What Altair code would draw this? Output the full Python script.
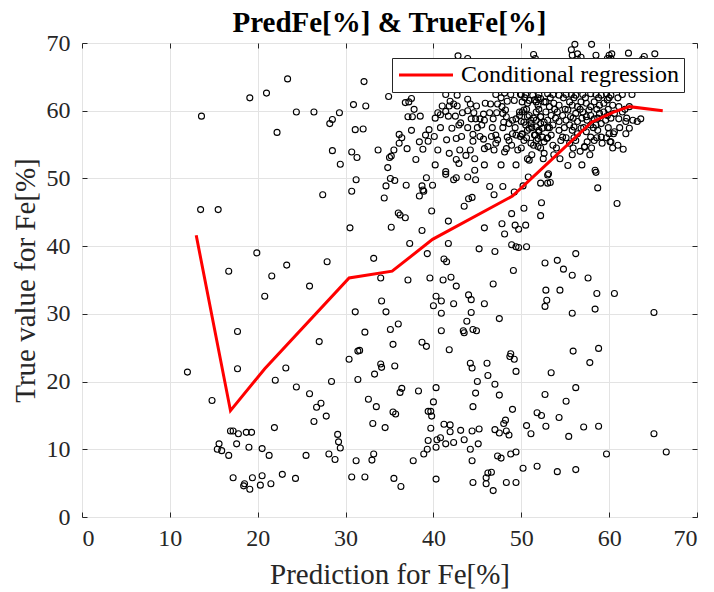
import altair as alt
import pandas as pd

SERIF = "Liberation Serif"
INK = "#262626"

# (prediction, true value) pairs for Fe[%], grouped by region of the plot
low_pred_points = [
    (23.4, 64.7), (21.0, 62.6), (19.1, 61.9), (13.6, 59.2), (24.4, 59.8), (26.4, 59.8), (29.3, 59.7),
    (30.9, 60.9), (28.5, 58.7), (28.2, 58.1), (22.2, 56.8), (31.1, 57.2), (28.5, 54.1), (30.7, 53.9),
    (31.3, 53.1), (29.4, 52.1), (31.2, 49.8), (27.4, 47.6), (30.7, 48.1),
    (13.5, 45.4), (15.5, 45.4), (30.5, 42.7), (19.9, 39.0), (16.7, 36.3), (23.3, 37.2), (21.6, 35.6),
    (27.9, 37.7), (25.9, 34.1), (20.8, 32.6), (31.1, 30.3), (17.7, 27.4), (27.0, 25.9),
    (12.0, 21.4), (17.7, 21.9), (23.2, 22.0), (22.0, 20.2), (30.4, 23.3), (31.4, 24.5), (28.4, 20.0),
    (31.4, 20.3), (24.4, 19.2), (25.9, 18.2), (27.2, 16.8), (26.7, 16.2), (14.8, 17.2), (27.8, 14.9),
    (26.4, 14.1), (21.9, 13.2), (16.9, 12.7), (17.2, 12.7), (17.8, 12.3), (18.7, 12.5), (19.3, 12.5),
    (15.6, 10.8), (15.4, 10.0), (15.9, 9.8), (17.6, 10.8), (19.0, 10.3), (20.5, 10.1), (16.7, 9.1),
    (21.3, 9.1), (25.5, 9.1), (28.1, 9.3), (28.8, 8.5), (29.1, 12.2), (29.2, 11.1), (29.4, 10.2),
    (31.2, 8.3), (17.2, 5.8), (19.4, 5.8), (20.5, 6.1), (18.5, 4.9), (18.4, 4.6), (19.1, 4.1),
    (20.3, 4.7), (21.5, 4.9), (22.8, 6.3), (24.3, 5.7), (30.7, 5.9),
]

mid_pred_upper = [
    (34.4, 47.1), (38.4, 47.4), (38.9, 48.1), (35.2, 42.8), (36.0, 44.9), (36.2, 44.6), (36.8, 44.2),
    (39.8, 45.2), (38.7, 42.3), (37.3, 40.4), (33.2, 38.2), (39.3, 38.9), (41.7, 43.7), (41.7, 40.4),
    (43.5, 45.9), (44.0, 47.0), (44.4, 47.2), (46.9, 47.6), (41.2, 38.1), (41.5, 37.7), (34.0, 35.3),
    (37.1, 35.0), (39.6, 35.3), (41.1, 35.0), (42.0, 35.4), (42.6, 34.1), (45.8, 42.7), (45.2, 39.6),
    (47.0, 39.2), (47.8, 43.3), (48.1, 41.8), (48.9, 44.8), (49.3, 43.1), (49.7, 42.5), (50.3, 45.6),
    (50.5, 43.1), (52.3, 46.4), (52.2, 44.5), (48.9, 40.2), (49.4, 39.9), (49.7, 39.8), (50.6, 39.9),
    (49.1, 36.4), (52.7, 37.5), (46.8, 34.4), (40.3, 32.6), (40.9, 31.9), (40.0, 31.2), (42.3, 31.5),
    (44.0, 32.8), (44.3, 32.1), (45.8, 31.5), (34.1, 31.9), (34.6, 30.3), (40.9, 30.1), (44.3, 30.2),
    (47.5, 29.3), (52.8, 33.5), (52.9, 32.0), (52.7, 31.1), (36.0, 28.5), (35.1, 27.7), (32.2, 27.3),
    (40.9, 27.5), (43.4, 27.5), (43.5, 27.2), (43.8, 28.9), (44.5, 27.7), (44.9, 27.5), (35.4, 25.5),
    (38.7, 25.8), (39.2, 25.2), (31.6, 24.6), (41.8, 24.7),
]

mid_pred_lower = [
    (34.0, 22.6), (34.1, 22.1), (35.6, 22.3), (33.3, 21.1), (44.2, 22.7), (44.4, 22.0), (46.1, 22.7),
    (46.2, 20.9), (48.8, 24.1), (48.7, 23.7), (49.2, 23.3), (49.4, 21.5), (45.0, 20.0), (47.0, 19.6),
    (44.8, 18.3), (47.5, 18.0), (44.5, 16.3), (49.0, 15.9), (36.4, 19.0), (36.2, 18.4), (38.3, 18.6),
    (40.3, 19.1), (32.6, 17.4), (33.5, 16.3), (40.0, 17.0), (35.4, 15.5), (35.7, 15.2), (39.4, 15.6),
    (39.7, 15.6), (39.8, 14.9), (33.1, 13.8), (34.5, 13.2), (39.7, 13.1), (41.2, 13.7), (41.9, 13.6),
    (41.9, 12.6), (43.1, 12.8), (44.4, 12.7), (45.2, 13.0), (47.0, 12.9), (47.5, 12.4), (48.0, 13.8),
    (48.2, 14.3), (48.3, 12.7), (48.6, 12.1), (50.6, 13.5), (51.1, 12.3), (51.8, 15.4), (52.3, 15.0),
    (52.7, 18.1), (52.8, 13.4), (40.8, 11.7), (40.4, 11.4), (39.4, 11.3), (41.4, 10.8), (42.3, 11.0),
    (43.5, 11.4), (45.1, 10.8), (40.3, 10.3), (44.2, 10.0), (39.3, 10.0), (38.9, 9.3), (37.7, 8.3),
    (33.2, 9.3), (33.0, 8.4), (47.3, 9.0), (47.7, 8.7), (48.8, 9.3), (49.4, 9.6), (44.4, 8.3),
    (50.2, 7.2), (51.8, 7.5), (46.2, 6.5), (46.6, 6.6), (46.0, 5.8), (46.0, 4.9), (44.5, 5.1),
    (46.8, 3.9), (48.3, 5.1), (49.4, 5.1), (40.3, 5.6), (35.5, 5.7), (36.3, 4.5), (32.2, 5.9),
]

high_pred_sparse = [
    (55.9, 24.5), (58.8, 24.9), (57.8, 22.8), (53.4, 21.3), (56.2, 19.1), (55.1, 17.1), (54.3, 14.7),
    (55.4, 11.9), (57.1, 13.3), (58.8, 13.4), (59.7, 9.3), (65.1, 12.3), (66.5, 9.6), (54.1, 6.7),
    (56.2, 7.0), (60.9, 46.3), (56.2, 38.9), (54.1, 37.9), (54.8, 36.6), (55.8, 35.7), (57.6, 35.3),
    (54.4, 33.5), (58.6, 33.0), (60.6, 33.0), (58.4, 30.7), (55.8, 30.1), (65.1, 30.2),
]

upper_cluster_left = [
    (32.1, 64.3), (42.8, 68.1), (43.9, 67.7), (51.4, 68.3), (51.6, 67.7), (32.3, 60.7), (34.9, 62.1),
    (36.8, 61.2), (37.2, 61.3), (37.5, 61.8), (37.8, 60.2), (37.1, 59.1), (37.6, 59.1), (38.5, 59.2),
    (40.2, 58.9), (40.8, 59.4), (41.0, 60.7), (41.9, 61.4), (41.8, 60.7), (42.7, 60.7), (41.4, 59.9),
    (41.7, 59.2), (42.5, 59.2), (42.7, 62.3), (41.4, 62.4), (43.9, 61.7), (43.9, 60.0), (44.9, 60.7),
    (45.9, 61.1), (45.7, 59.5), (44.8, 58.8), (44.3, 58.8), (45.3, 58.8), (45.8, 58.6), (46.8, 58.8),
    (45.5, 57.9), (47.1, 62.4), (47.7, 61.9), (48.1, 62.6), (48.4, 61.4), (48.8, 62.4), (49.2, 61.5),
    (49.9, 62.4), (50.9, 61.5), (51.7, 61.3), (52.2, 61.8), (52.8, 61.3), (47.8, 60.6), (48.2, 60.1),
    (47.9, 59.6), (48.3, 59.1), (48.0, 58.3), (48.6, 58.1), (49.0, 58.6), (49.4, 58.8), (49.8, 59.3),
    (50.1, 59.8), (50.3, 58.3), (50.7, 59.1), (51.1, 58.1), (50.9, 57.4), (51.7, 58.6), (52.2, 59.1),
    (52.6, 58.3), (53.0, 57.5), (52.0, 57.1), (52.4, 57.4), (48.4, 56.1), (49.0, 56.6), (48.6, 55.6),
    (48.9, 54.9), (48.3, 54.4), (48.1, 53.9), (49.4, 56.4), (50.1, 56.5), (51.6, 56.4), (51.9, 55.9),
    (51.4, 54.9), (51.9, 54.7), (52.6, 53.7), (52.9, 55.9), (50.9, 52.7), (32.0, 57.3), (33.7, 54.2),
    (36.1, 56.5), (36.4, 56.0), (37.5, 57.1), (39.5, 57.2), (39.1, 56.4), (39.4, 55.5), (36.1, 55.2),
    (35.5, 54.2), (35.2, 53.3), (35.0, 53.1), (37.0, 54.4), (38.4, 55.4), (38.8, 54.3), (38.0, 52.8),
    (42.1, 57.4), (42.9, 57.9), (43.1, 58.2), (41.5, 55.7), (42.6, 55.9), (44.5, 56.5), (44.5, 55.5),
    (45.7, 55.8), (47.1, 56.4), (47.3, 55.7), (46.2, 54.7), (45.8, 54.4), (47.1, 55.2), (41.8, 53.7),
    (42.6, 52.8), (42.9, 52.2), (43.7, 53.4), (44.7, 52.9), (44.7, 51.2), (34.8, 51.6), (35.6, 49.7),
    (35.1, 50.0), (34.6, 48.9), (36.9, 49.0), (38.7, 48.9), (39.2, 50.1), (39.9, 49.0), (38.8, 48.3),
    (41.4, 51.0), (41.4, 50.6), (42.6, 50.1), (42.3, 49.8), (43.9, 50.2), (44.8, 49.8), (46.4, 48.8),
    (47.9, 48.8), (49.2, 48.0), (50.2, 48.9), (50.8, 50.2), (52.2, 49.3), (53.0, 49.3), (53.1, 50.7),
    (42.3, 61.0), (44.2, 61.0), (46.5, 61.0), (47.3, 61.0), (40.5, 59.7), (43.3, 59.7), (44.6, 59.7),
    (46.4, 59.7), (47.2, 59.7), (40.8, 57.5), (43.9, 57.5), (45.0, 57.5), (46.7, 57.5), (47.9, 57.5),
    (49.3, 57.5), (40.1, 56.2), (43.2, 56.2), (45.3, 56.2), (46.6, 56.2), (49.9, 56.2), (40.5, 54.2),
    (43.0, 54.2), (44.2, 54.2), (46.9, 54.2), (49.6, 54.2), (40.2, 52.0), (45.8, 52.0), (47.7, 52.0),
    (49.4, 52.0),
]

upper_cluster_right = [
    (55.7, 69.0), (56.1, 69.8), (58.0, 69.8), (55.8, 68.2), (56.4, 68.4), (56.8, 67.9), (56.4, 67.6),
    (58.5, 68.2), (60.0, 68.2), (60.3, 68.4), (59.8, 67.7), (60.2, 67.7), (62.2, 68.5), (64.0, 68.0),
    (63.8, 67.6), (65.2, 68.4),
    (50.0, 62.4), (50.5, 62.4), (51.3, 62.3), (52.0, 62.4), (53.0, 62.5), (53.6, 62.4), (54.3, 62.3),
    (55.1, 62.4), (55.7, 62.4), (56.2, 62.3), (57.0, 62.4), (57.9, 62.5), (58.5, 62.4), (59.1, 62.3),
    (59.7, 62.5), (60.2, 62.3), (61.5, 62.4), (62.6, 62.4),
    (50.1, 61.3), (50.7, 61.1), (51.5, 61.6), (51.9, 60.8), (52.6, 61.3), (53.2, 60.6), (53.7, 61.1),
    (54.3, 60.8), (55.5, 61.3), (55.8, 60.8), (56.4, 60.6), (56.8, 61.3), (57.4, 61.1), (57.9, 60.6),
    (58.3, 61.3), (58.9, 60.8), (59.4, 61.1), (59.8, 61.6), (60.4, 60.8), (61.1, 60.6), (61.5, 59.8),
    (62.3, 60.6),
    (49.8, 59.8), (50.3, 60.1), (50.9, 59.3), (51.7, 59.8), (52.2, 59.1), (52.8, 59.8), (53.4, 59.3),
    (54.1, 59.8), (54.7, 59.3), (55.3, 60.1), (55.6, 59.1), (56.2, 59.6), (57.0, 59.8), (57.4, 59.1),
    (57.7, 60.1), (57.9, 59.3), (58.3, 58.8), (58.9, 59.6), (59.4, 59.8), (59.8, 59.3), (60.6, 59.6),
    (61.1, 58.8), (61.9, 58.4), (62.7, 58.6), (63.2, 58.4),
    (50.0, 58.4), (50.5, 57.9), (51.1, 58.6), (51.7, 57.6), (52.2, 58.1), (53.0, 58.6), (53.6, 57.9),
    (54.3, 58.4), (55.1, 58.6), (55.5, 57.9), (56.0, 57.6), (56.4, 58.4), (56.8, 57.4), (57.5, 58.6),
    (57.9, 57.9), (58.5, 57.9), (59.1, 58.1), (59.6, 58.6),
    (50.1, 56.6), (50.7, 57.1), (51.5, 56.4), (52.0, 56.9), (52.4, 56.1), (53.4, 56.4), (54.3, 57.1),
    (54.7, 56.1), (55.8, 57.1), (56.4, 56.6), (57.4, 56.9), (57.9, 56.1), (58.7, 57.1), (59.1, 56.1),
    (60.0, 56.6), (60.6, 56.9),
    (50.3, 55.6), (51.1, 55.2), (51.7, 55.6), (52.6, 55.4), (53.6, 54.9), (54.5, 55.6), (55.5, 55.2),
    (56.2, 55.6), (57.2, 54.7), (57.5, 55.4), (58.3, 55.6), (59.2, 55.2), (60.2, 55.4), (61.0, 54.9),
    (61.6, 54.3), (60.1, 55.4), (58.4, 51.2), (58.5, 50.9), (58.7, 48.6), (53.0, 50.5), (53.3, 49.4),
    (55.3, 51.9), (56.9, 52.0), (50.7, 52.9), (52.5, 52.9), (54.4, 52.9), (56.7, 54.0), (57.2, 54.6),
    (60.5, 56.6), (61.9, 56.6), (62.3, 57.4), (63.6, 58.8),
    (50.4, 61.9), (51.9, 61.9), (53.3, 61.9), (54.8, 61.9), (56.0, 61.9), (57.3, 61.9), (58.8, 61.9),
    (60.0, 61.9), (61.0, 61.9), (50.6, 60.2), (52.0, 60.2), (53.8, 60.2), (55.0, 60.2), (56.7, 60.2),
    (58.6, 60.2), (59.9, 60.2), (61.8, 60.2), (51.4, 58.9), (53.9, 58.9), (55.9, 58.9), (56.9, 58.9),
    (58.7, 58.9), (60.2, 58.9), (62.0, 58.9), (51.2, 57.5), (53.2, 57.5), (54.9, 57.5), (57.1, 57.5),
    (58.2, 57.5), (59.9, 57.5), (61.2, 57.5), (50.6, 56.0), (53.0, 56.0), (55.1, 56.0), (56.0, 56.0),
    (58.6, 56.0), (59.7, 56.0), (50.0, 54.5), (52.2, 54.5), (54.0, 54.5), (55.9, 54.5), (58.0, 54.5),
    (60.4, 54.5), (51.2, 53.5), (53.7, 53.5), (55.8, 53.5), (57.8, 53.5),
]

# conditional regression curve
reg_pred = [13.0, 16.9, 20.8, 30.4, 35.3, 39.9, 49.0, 53.3, 58.0, 60.5, 62.3, 66.1]
reg_true = [41.6, 15.7, 21.9, 35.3, 36.3, 41.0, 47.4, 52.6, 58.3, 59.8, 60.6, 60.0]

tick_values = [0, 10, 20, 30, 40, 50, 60, 70]

all_points = (low_pred_points + mid_pred_upper + mid_pred_lower + high_pred_sparse
              + upper_cluster_left + upper_cluster_right)
scatter_df = pd.DataFrame(all_points, columns=["pred", "true"])
reg_df = pd.DataFrame({"pred": reg_pred, "true": reg_true,
                       "series": ["Conditional regression"] * len(reg_pred)})

x_scale = alt.Scale(domain=[0, 70], nice=False, zero=False)
y_scale = alt.Scale(domain=[0, 70], nice=False, zero=False)


def box_axis(orient, title=None, labels=True, grid=False):
    horizontal = orient in ("bottom", "top")
    opts = dict(
        orient=orient, values=tick_values, offset=-5, tickSize=5, tickColor=INK, tickWidth=1,
        domain=False, grid=grid, gridColor="#e3e3e3", gridWidth=1, labels=labels,
        labelFont=SERIF, labelFontSize=24, labelColor=INK,
        labelPadding=9 if horizontal else 12,
        titleFont=SERIF, titleFontSize=29, titleFontWeight="normal", titleColor=INK,
    )
    if title is not None:
        opts["title"] = title
        opts["titlePadding"] = 10 if horizontal else 6
    else:
        opts["title"] = None
    return alt.Axis(**opts)


points = alt.Chart(scatter_df).mark_point(
    shape="circle", filled=False, color="black", size=36, strokeWidth=1.1, opacity=1
).encode(
    x=alt.X("pred:Q", scale=x_scale, axis=box_axis("bottom", "Prediction for Fe[%]", grid=True)),
    y=alt.Y("true:Q", scale=y_scale, axis=box_axis("left", "True value for Fe[%]", grid=True)),
)

regression = alt.Chart(reg_df).mark_line(strokeWidth=3).encode(
    x=alt.X("pred:Q", scale=x_scale, axis=box_axis("top", labels=False)),
    y=alt.Y("true:Q", scale=y_scale, axis=box_axis("right", labels=False)),
    color=alt.Color(
        "series:N",
        scale=alt.Scale(range=["#ff0000"]),
        legend=alt.Legend(
            title=None, orient="none", legendX=310, legendY=15,
            symbolType="M-1,0H4.4", symbolSize=400, symbolStrokeWidth=3,
            labelFont=SERIF, labelFontSize=24, labelColor="black", labelLimit=400,
            fillColor="white", strokeColor=INK, padding=5, cornerRadius=0,
            labelOffset=40,
        ),
    ),
)

chart = alt.layer(points, regression).resolve_axis(
    x="independent", y="independent"
).properties(
    width=615, height=474,
    title=alt.TitleParams(
        "PredFe[%] & TrueFe[%]", font=SERIF, fontSize=29, fontWeight="bold",
        color="black", anchor="middle", offset=12, dy=19,
    ),
    autosize=alt.AutoSizeParams(type="none"),
    padding={"left": 82, "top": 43, "right": 17, "bottom": 75},
).configure_view(
    stroke=INK, strokeWidth=1
).configure(background="white")

chart.save("out.html", embed_options={"renderer": "svg", "actions": False})
